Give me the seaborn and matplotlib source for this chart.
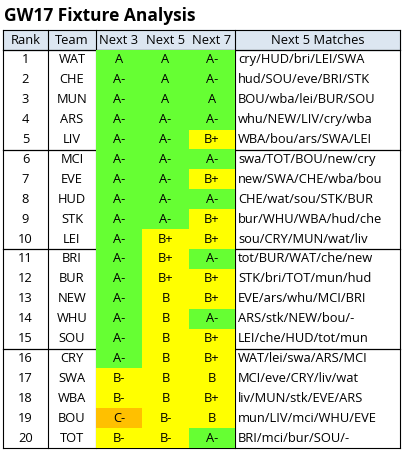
import matplotlib
matplotlib.use("Agg")
import matplotlib.pyplot as plt
from matplotlib.colors import ListedColormap
import seaborn as sns
import numpy as np

ranks = list(range(1, 21))
teams = ["WAT", "CHE", "MUN", "ARS", "LIV", "MCI", "EVE", "HUD", "STK", "LEI",
         "BRI", "BUR", "NEW", "WHU", "SOU", "CRY", "SWA", "WBA", "BOU", "TOT"]
next3 = ["A", "A-", "A-", "A-", "A-", "A-", "A-", "A-", "A-", "A-",
         "A-", "A-", "A-", "A-", "A-", "A-", "B-", "B-", "C-", "B-"]
next5 = ["A", "A", "A", "A-", "A-", "A-", "A-", "A-", "A-", "B+",
         "B+", "B+", "B", "B", "B", "B", "B", "B", "B-", "B-"]
next7 = ["A-", "A-", "A", "A-", "B+", "A-", "B+", "A-", "B+", "B+",
         "A-", "B+", "B+", "A-", "B+", "B+", "B", "B+", "B", "A-"]
matches = ["cry/HUD/bri/LEI/SWA", "hud/SOU/eve/BRI/STK", "BOU/wba/lei/BUR/SOU",
           "whu/NEW/LIV/cry/wba", "WBA/bou/ars/SWA/LEI", "swa/TOT/BOU/new/cry",
           "new/SWA/CHE/wba/bou", "CHE/wat/sou/STK/BUR", "bur/WHU/WBA/hud/che",
           "sou/CRY/MUN/wat/liv", "tot/BUR/WAT/che/new", "STK/bri/TOT/mun/hud",
           "EVE/ars/whu/MCI/BRI", "ARS/stk/NEW/bou/-", "LEI/che/HUD/tot/mun",
           "WAT/lei/swa/ARS/MCI", "MCI/eve/CRY/liv/wat", "liv/MUN/stk/EVE/ARS",
           "mun/LIV/mci/WHU/EVE", "BRI/mci/bur/SOU/-"]
headers = ["Rank", "Team", "Next 3", "Next 5", "Next 7", "Next 5 Matches"]

W, H = 410, 458
FONT = "Open Sans"
FS = 9.3
fig = plt.figure(figsize=(W / 100, H / 100), dpi=100)
ax = fig.add_axes([0, 0, 1, 1])
ax.set_xlim(0, W)
ax.set_ylim(H, 0)
ax.axis("off")

xs = [3, 48, 96, 142, 189, 235, 400]
top, hdr_h, row_h = 30, 20, 19.9
body_top = top + hdr_h
bottom = body_top + 20 * row_h

# grade cells via seaborn heatmap: 0=green, 1=yellow, 2=orange
def grade_cat(g):
    if g.startswith("A"):
        return 0
    if g.startswith("B"):
        return 1
    return 2

grid = np.array([[grade_cat(g) for g in (a, b, c)] for a, b, c in zip(next3, next5, next7)])
labels = np.array([[a, b, c] for a, b, c in zip(next3, next5, next7)])
hax = fig.add_axes([xs[2] / W, 1 - bottom / H, (xs[5] - xs[2]) / W, (bottom - body_top) / H])
sns.heatmap(grid, ax=hax, cmap=ListedColormap(["#66FF33", "#FFFF00", "#FFC000"]),
            vmin=-0.5, vmax=2.5, cbar=False, annot=labels, fmt="",
            annot_kws={"fontsize": FS, "color": "black", "family": FONT},
            xticklabels=False, yticklabels=False)
hax.axis("off")

# header
ax.add_patch(plt.Rectangle((xs[0], top), xs[6] - xs[0], hdr_h, color="#DCE6F1", zorder=0))
for i, h in enumerate(headers):
    ax.text((xs[i] + xs[i + 1]) / 2, top + hdr_h / 2, h, ha="center", va="center",
            fontsize=FS, family=FONT)

for r in range(20):
    y = body_top + (r + 0.5) * row_h
    ax.text((xs[0] + xs[1]) / 2, y, str(ranks[r]), ha="center", va="center", fontsize=FS, family=FONT)
    ax.text((xs[1] + xs[2]) / 2, y, teams[r], ha="center", va="center", fontsize=FS, family=FONT)
    ax.text(xs[5] + 3, y, matches[r], ha="left", va="center", fontsize=FS, family=FONT)

# grid lines
for x in [xs[0], xs[1], xs[2], xs[5], xs[6]]:
    ax.plot([x, x], [top, bottom], color="black", lw=0.8)
ax.plot([xs[0], xs[6]], [top, top], color="black", lw=0.8)
ax.plot([xs[0], xs[6]], [bottom, bottom], color="black", lw=0.8)
ax.plot([xs[0], xs[6]], [body_top, body_top], color="black", lw=0.9)
for g in (5, 10, 15):
    y = body_top + g * row_h
    ax.plot([xs[0], xs[6]], [y, y], color="black", lw=0.9)

ax.text(4, 16, "GW17 Fixture Analysis", ha="left", va="center", fontsize=12.5,
        fontweight="bold", family=FONT)

fig.savefig("out.png", dpi=100)
